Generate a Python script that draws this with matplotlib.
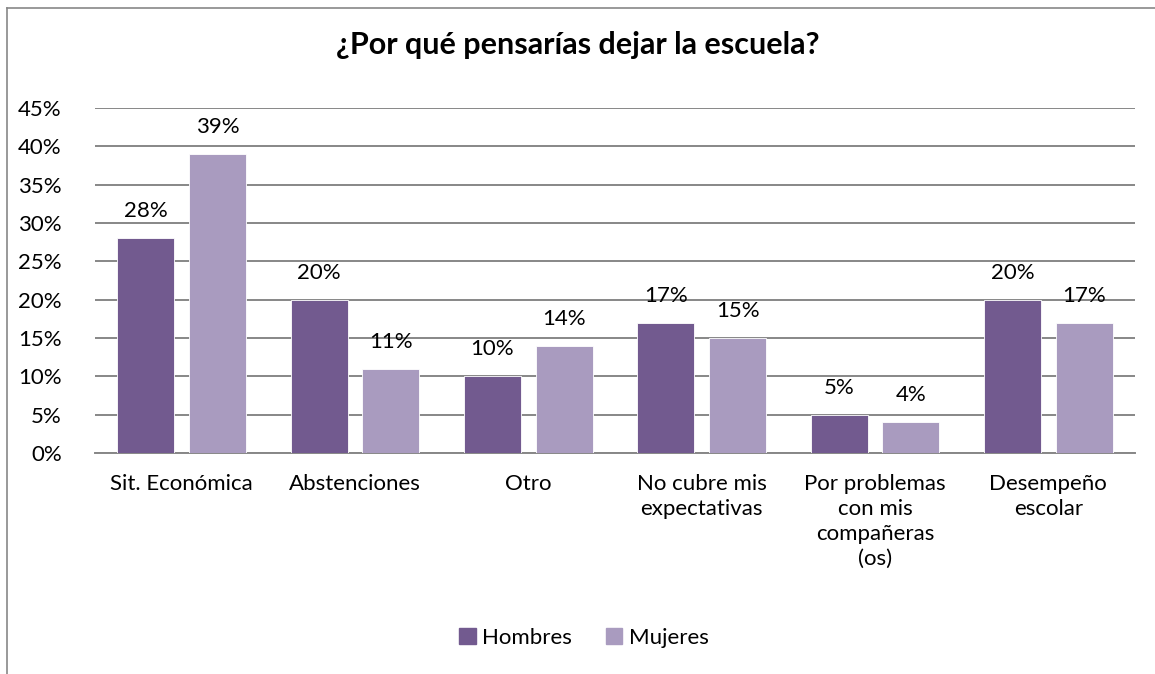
import numpy as np
import matplotlib.pyplot as plt
from matplotlib.patches import Patch
from matplotlib.ticker import FuncFormatter

categorias = ['Sit. Económica', 'Abstenciones', 'Otro', 'No cubre mis\nexpectativas',
              'Por problemas\ncon mis\ncompañeras\n(os)', 'Desempeño\nescolar']
hombres = [28, 20, 10, 17, 5, 20]
mujeres = [39, 11, 14, 15, 4, 17]
series = ['Hombres', 'Mujeres']
colores = ['#725A8F', '#A99BBF']

plt.rcParams['font.family'] = ['Lato', 'DejaVu Sans']
fs = 16

fig = plt.figure(figsize=(11.55, 6.74), dpi=100)
ax = fig.add_axes([95/1155, 1-453/674, 1040/1155, 345/674])

x = np.arange(len(categorias))
w = 0.33
off = 0.207
for vals, col, dx in [(hombres, colores[0], -off), (mujeres, colores[1], off)]:
    bars = ax.bar(x + dx, vals, w, color=col, edgecolor='white', linewidth=0.6, zorder=3)
    for b, v in zip(bars, vals):
        ax.text(b.get_x() + b.get_width()/2, v + 2.2, f'{v}%', ha='center', va='bottom',
                fontsize=fs, color='#000000')

ax.set_xlim(-0.5, len(categorias) - 0.5)
ax.set_ylim(0, 45)
ax.set_yticks(np.arange(0, 46, 5))
ax.yaxis.set_major_formatter(FuncFormatter(lambda v, p: f'{int(v)}%'))
ax.set_xticks(x)
ax.set_xticklabels(categorias, fontsize=fs, linespacing=1.32)
ax.tick_params(axis='y', labelsize=fs, length=0, pad=24)
ax.tick_params(axis='x', length=0, pad=15)
ax.grid(axis='y', color='#878787', linewidth=1.4, zorder=0)
for s in ['left', 'right', 'top']:
    ax.spines[s].set_visible(False)
ax.spines['bottom'].set_color('#878787')
ax.spines['bottom'].set_linewidth(1.4)

fig.text(0.5, 1-45/674, '¿Por qué pensarías dejar la escuela?', ha='center', va='center',
         fontsize=22, fontweight='bold')

handles = [Patch(color=c, label=s) for c, s in zip(colores, series)]
fig.legend(handles=handles, loc='center', bbox_to_anchor=(584/1155, 1-638/674), ncol=2,
           frameon=False, fontsize=fs, handlelength=0.75, handleheight=0.75,
           handletextpad=0.3, columnspacing=1.5)

# borde del gráfico
fig.add_artist(plt.Line2D([7/1155, 7/1155], [0, 1-8/674], transform=fig.transFigure,
                          color='#878787', linewidth=1.2))
fig.add_artist(plt.Line2D([7/1155, 1], [1-8/674, 1-8/674], transform=fig.transFigure,
                          color='#878787', linewidth=1.2))

fig.savefig('out.png', dpi=100)
